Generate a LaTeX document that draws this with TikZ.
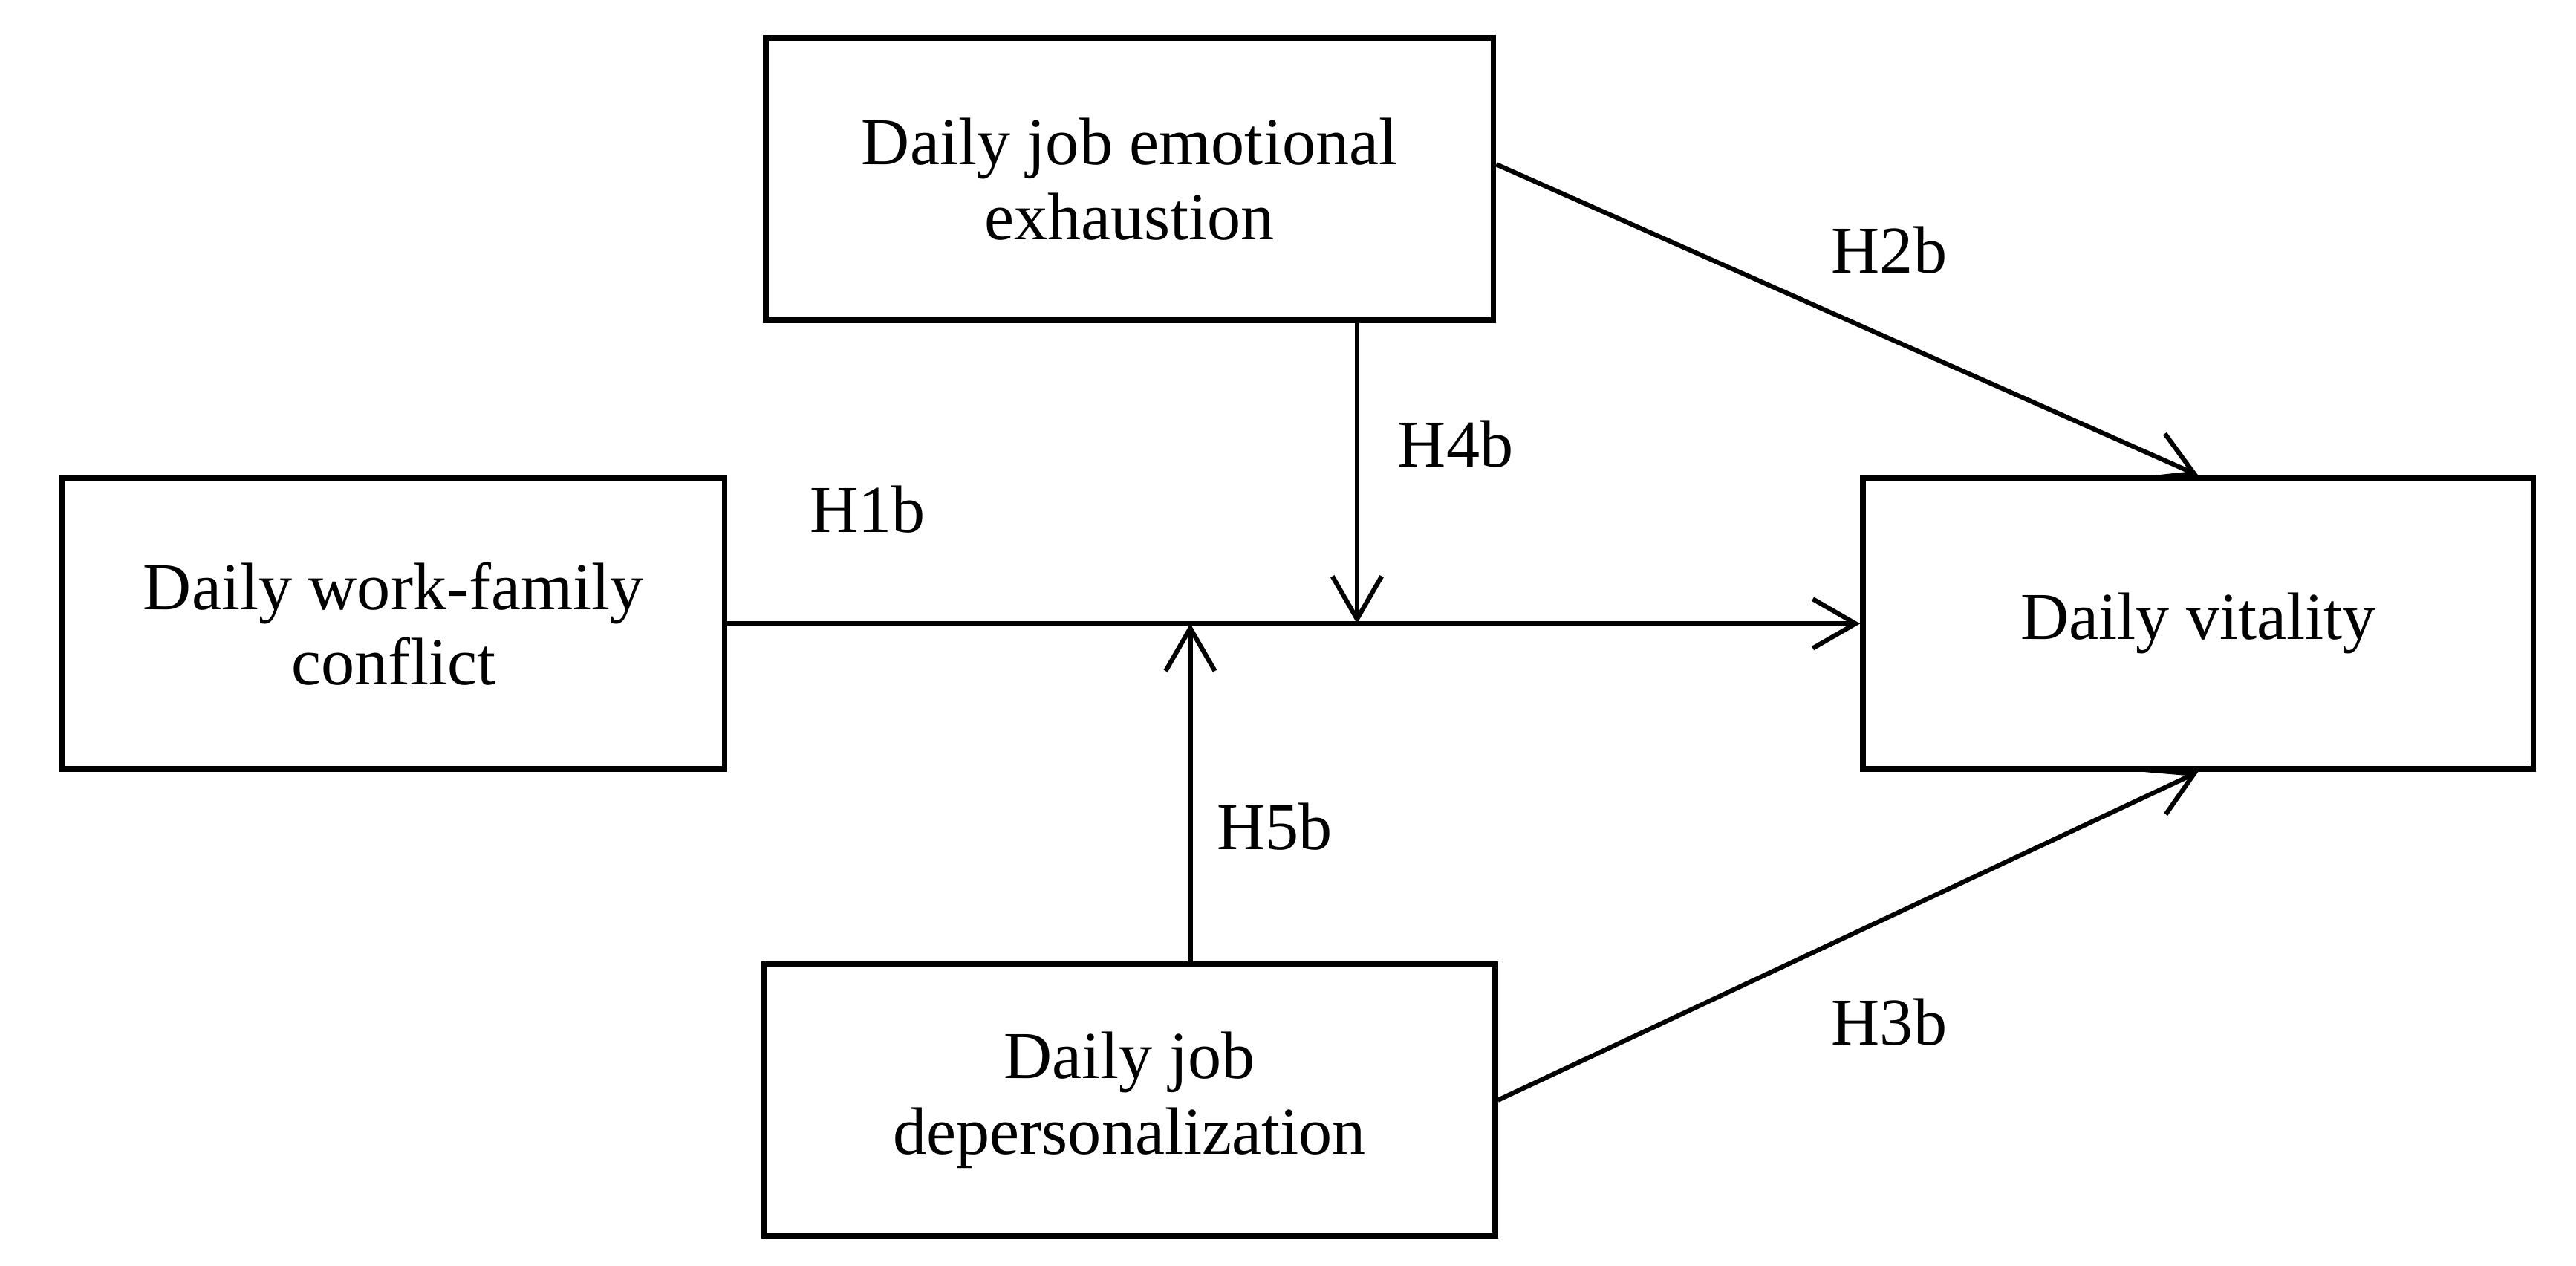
\documentclass[tikz,border=0pt]{standalone}
\usepackage{fontspec}
\setmainfont{Liberation Serif}
\usepackage{tikz}
\usetikzlibrary{shapes.geometric, arrows}
\usetikzlibrary{arrows.meta}
\tikzstyle{factor} = [rectangle, minimum width=4.4cm, minimum height=1.75cm, text centered, draw=black, line width=1pt, font=\fontsize{11.6}{13}\selectfont]
\tikzstyle{arrow} = [line width=0.8pt, -{Straight Barb[length=2.6mm, width=3mm]}]
\tikzstyle{hyp} = [font=\fontsize{11.6}{13}\selectfont]

\begin{document}
\begin{tikzpicture}[node distance=2cm]
                        \useasboundingbox (0,0) rectangle (15.68,-7.70);

                        \node (1) [factor, align=center, minimum width=4.03cm, minimum height=1.77cm] at (2.395,-3.795) {Daily work-family\\conflict};
                        \node (2) [factor, right of=1, align=center, minimum width=4.08cm, minimum height=1.77cm, xshift=8.985cm] {Daily vitality};

                        \node (3) [factor, right of=1, align=center, minimum width=4.43cm, minimum height=1.72cm, xshift=2.48cm, yshift=2.705cm] {Daily job emotional\\exhaustion};
                        \node (4) [factor, below of=3, align=center, minimum width=4.45cm, minimum height=1.65cm, yshift=-3.605cm] {Daily job\\depersonalization};

                        \coordinate (m4) at (8.26,-3.795);
                        \coordinate (m5) at (7.245,-3.795);

                        \node (h1) [hyp] at (5.28,-3.10) {H1b};
                        \node (h2) [hyp] at (11.50,-1.52) {H2b};
                        \node (h3) [hyp] at (11.50,-6.22) {H3b};
                        \node (h4) [hyp] at (8.86,-2.70) {H4b};
                        \node (h5) [hyp] at (7.76,-5.03) {H5b};

                        \draw[arrow] (1) -- (2);
                        \draw[arrow] ([yshift=0.9mm]3.east) -- (2.north);
                        \draw[arrow] (4.east) -- (2.south);

                        \draw[arrow] (3.south -| m4) -- (m4);
                        \draw[arrow] (4.north -| m5) -- (m5);

                    \end{tikzpicture}
\end{document}
